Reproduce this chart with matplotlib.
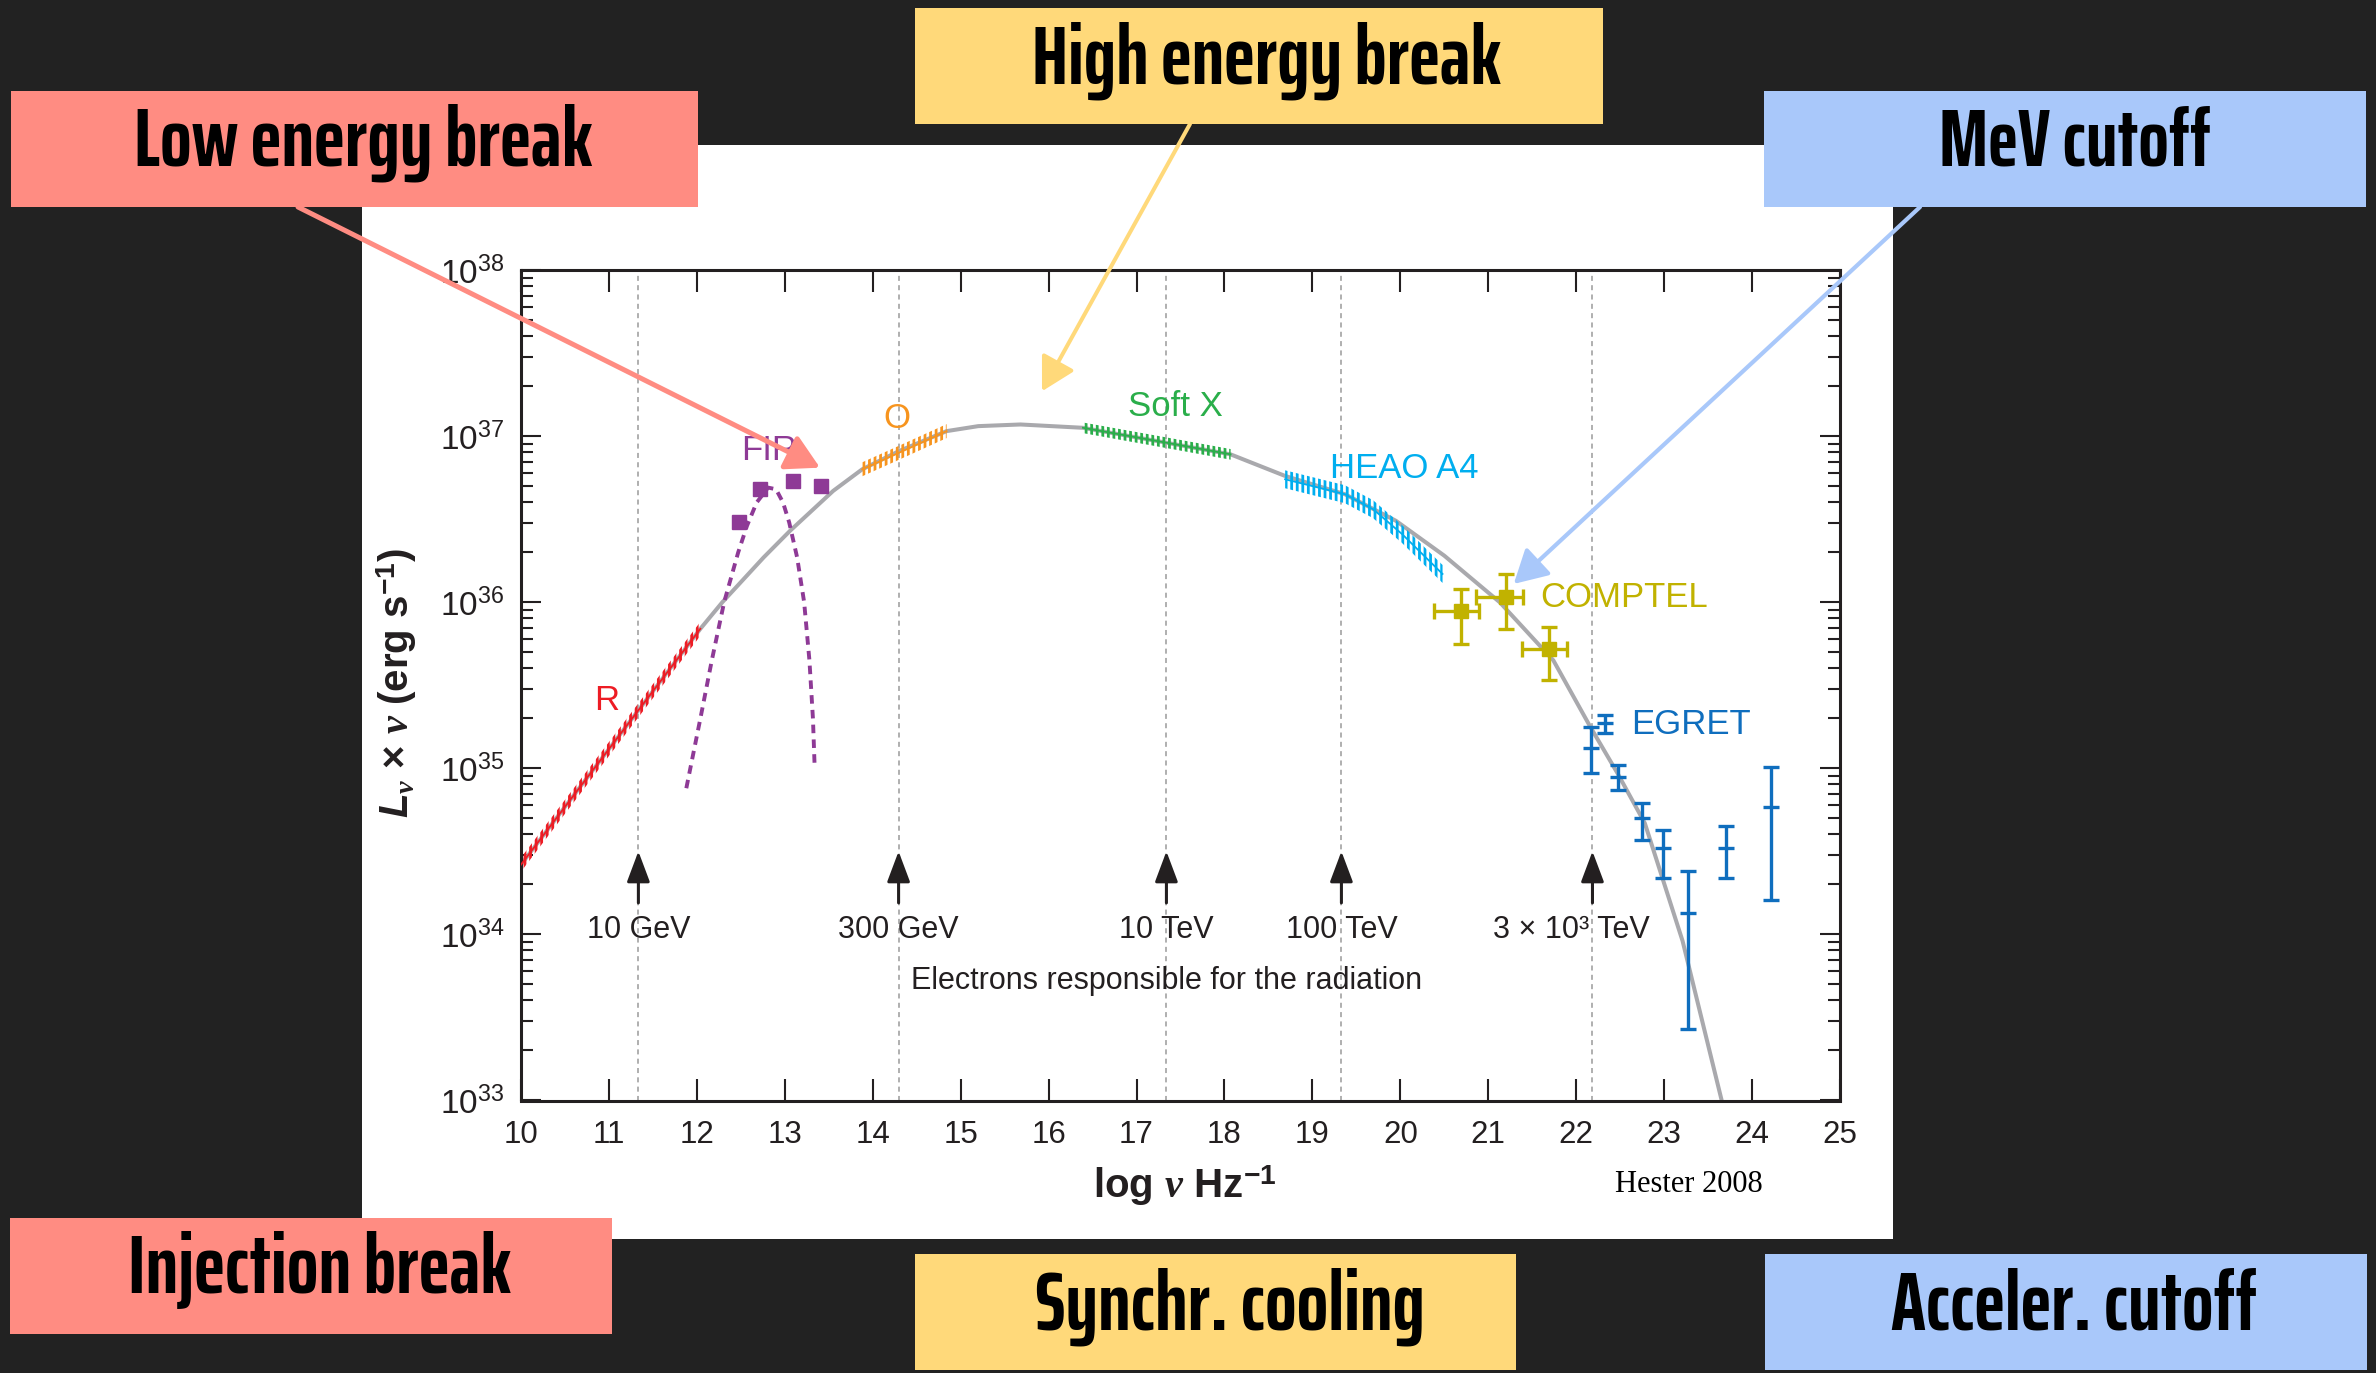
import os
import numpy as np
import matplotlib
matplotlib.use("Agg")
import matplotlib.pyplot as plt
from matplotlib import font_manager
from matplotlib.font_manager import FontProperties
from matplotlib.patches import Rectangle, Polygon
from matplotlib.ticker import FixedLocator, LogLocator, FuncFormatter, NullFormatter

# ---------------- data: log10(nu / Hz) and log10(L_nu * nu / erg s^-1) ----------------
model_lognu = [10.0, 12.04, 12.29, 12.76, 13.06, 13.55, 13.88, 14.30, 14.84, 15.20, 15.68,
               16.39, 17.34, 18.07, 18.69, 19.37, 19.95, 20.50, 21.13, 21.74, 22.16, 22.47,
               22.78, 23.21, 23.65, 23.70]
model_logL = [34.42, 35.84, 36.00, 36.27, 36.43, 36.67, 36.80, 36.91, 37.03, 37.06, 37.07,
              37.05, 36.96, 36.89, 36.76, 36.65, 36.49, 36.28, 36.00, 35.65, 35.25, 34.97,
              34.67, 33.96, 33.01, 32.90]

radio_lognu = [10.0, 12.04]
radio_logL = [34.42, 35.84]

fir_lognu = [12.48, 12.72, 13.09, 13.41]
fir_logL = [36.48, 36.68, 36.73, 36.70]

dust_lognu = [11.88, 12.04, 12.17, 12.31, 12.47, 12.57, 12.68, 12.81, 12.90, 12.98, 13.05,
              13.14, 13.22, 13.28, 13.32, 13.34]
dust_logL = [34.88, 35.30, 35.65, 36.00, 36.30, 36.46, 36.60, 36.69, 36.68, 36.60, 36.48,
             36.27, 36.00, 35.65, 35.30, 35.00]

optical_lognu = [13.88, 14.30, 14.84]
optical_logL = [36.80, 36.90, 37.03]

softx_lognu = [16.39, 17.34, 18.07]
softx_logL = [37.05, 36.96, 36.89]

heao_lognu = [18.69, 19.37, 19.69, 20.02, 20.48]
heao_logL = [36.74, 36.65, 36.56, 36.41, 36.17]

comptel_lognu = [20.69, 21.20, 21.69]
comptel_lognu_lo = [20.38, 20.86, 21.38]
comptel_lognu_hi = [20.90, 21.40, 21.90]
comptel_logL = [35.95, 36.03, 35.72]
comptel_logL_lo = [35.75, 35.84, 35.53]
comptel_logL_hi = [36.08, 36.17, 35.85]

egret_lognu = [22.17, 22.33, 22.47, 22.75, 22.99, 23.27, 23.70, 24.21]
egret_logL = [35.12, 35.27, 34.95, 34.70, 34.52, 34.13, 34.52, 34.77]
egret_logL_lo = [34.97, 35.21, 34.87, 34.57, 34.34, 33.43, 34.34, 34.21]
egret_logL_hi = [35.25, 35.32, 35.02, 34.79, 34.63, 34.38, 34.65, 35.01]

electron_lognu = [11.335, 14.294, 17.34, 19.33, 22.185]
electron_label_lognu = [11.335, 14.294, 17.34, 19.33, 21.94]
electron_labels = ["10 GeV", "300 GeV", "10 TeV", "100 TeV", "3 \u00d7 10\u00b3 TeV"]

x_ticks = list(range(10, 26))
y_decades = [33, 34, 35, 36, 37, 38]

box_labels = ["Low energy break", "High energy break", "MeV cutoff",
              "Injection break", "Synchr. cooling", "Acceler. cutoff"]

# ---------------- style ----------------
BG = "#222222"
INK = "#231f20"
SALMON = "#ff8c82"
YELLOW = "#ffd97a"
BLUE = "#a9c8fa"
C_MODEL = "#a9a9ad"
C_R = "#ed1c24"
C_FIR = "#8e3a96"
C_O = "#f7941e"
C_SX = "#2aae4a"
C_HEAO = "#00aeef"
C_COMPTEL = "#c1b200"
C_EGRET = "#0f6ebe"

plt.rcParams["font.family"] = ["Liberation Sans", "DejaVu Sans"]
plt.rcParams["mathtext.fontset"] = "custom"
plt.rcParams["mathtext.rm"] = "Liberation Sans"
plt.rcParams["mathtext.bf"] = "Liberation Sans:bold"
plt.rcParams["mathtext.it"] = "Liberation Serif:italic:bold"
plt.rcParams["mathtext.sf"] = "Liberation Sans:italic:bold"
plt.rcParams["hatch.linewidth"] = 2.0

W, H = 2376, 1373
fig = plt.figure(figsize=(W / 100, H / 100), dpi=100, facecolor=BG)

# white panel behind the chart
fig.patches.append(Rectangle((362 / W, 1 - 1239 / H), (1893 - 362) / W, (1239 - 145) / H,
                             transform=fig.transFigure, facecolor="white",
                             edgecolor="none", zorder=-5))

ax = fig.add_axes([521 / W, 1 - 1100.5 / H, (1840 - 521) / W, (1100.5 - 270) / H])
ax.set_facecolor("white")
ax.set_xlim(10, 25)
ax.set_yscale("log")
ax.set_ylim(10.0 ** y_decades[0], 10.0 ** y_decades[-1])


def lin(v):
    return 10.0 ** np.asarray(v, dtype=float)


# electron-energy reference lines and arrows
for xv in electron_lognu:
    ax.axvline(xv, color="#9a9a9a", lw=1.1, ls=(0, (3.3, 2.8)), zorder=1)
    ax.annotate("", xy=(xv, 10 ** 34.50), xytext=(xv, 10 ** 34.19),
                arrowprops=dict(arrowstyle="-|>,head_length=0.4,head_width=0.15",
                                mutation_scale=47, lw=2.2, color=INK,
                                shrinkA=0, shrinkB=0), zorder=3)
for xv, lab in zip(electron_label_lognu, electron_labels):
    ax.text(xv, 10 ** 33.978, lab, ha="center", va="baseline", fontsize=22, color=INK)
ax.text(electron_lognu[2], 10 ** 33.67, "Electrons responsible for the radiation",
        ha="center", va="baseline", fontsize=22, color=INK)

# synchrotron model
ax.plot(model_lognu, lin(model_logL), color=C_MODEL, lw=2.9, zorder=2,
        solid_capstyle="butt")

# dust model
ax.plot(dust_lognu, lin(dust_logL), color=C_FIR, lw=2.8, ls=(0, (2.2, 1.6)), zorder=3)

# hatched observational bands (half-thickness in dex)
bands = [
    (radio_lognu, radio_logL, C_R, 0.042),
    (optical_lognu, optical_logL, C_O, 0.042),
    (softx_lognu, softx_logL, C_SX, 0.032),
    (heao_lognu, heao_logL, C_HEAO, 0.054),
]
for xs, ys, c, half in bands:
    ys = np.asarray(ys, dtype=float)
    upper = np.column_stack([xs, lin(ys + half)])
    lower = np.column_stack([xs, lin(ys - half)])[::-1]
    ax.add_patch(Polygon(np.vstack([upper, lower]), closed=True, facecolor="none",
                         edgecolor=c, lw=0, hatch="|||", zorder=4))
    ax.plot(xs, lin(ys), color=c, lw=1.3, zorder=4)

# FIR photometry
ax.plot(fir_lognu, lin(fir_logL), ls="none", marker="s", markersize=9.5,
        color=C_FIR, zorder=5)

# COMPTEL
cy = lin(comptel_logL)
c_yerr = [cy - lin(comptel_logL_lo), lin(comptel_logL_hi) - cy]
c_xerr = [np.subtract(comptel_lognu, comptel_lognu_lo),
          np.subtract(comptel_lognu_hi, comptel_lognu)]
ax.errorbar(comptel_lognu, cy, yerr=c_yerr, xerr=c_xerr, fmt="s", markersize=10,
            color=C_COMPTEL, ecolor=C_COMPTEL, elinewidth=2.4, capsize=6, capthick=2.4,
            zorder=5)

# EGRET
ey = lin(egret_logL)
e_yerr = [ey - lin(egret_logL_lo), lin(egret_logL_hi) - ey]
ax.errorbar(egret_lognu, ey, yerr=e_yerr, fmt="_", markersize=12, markeredgewidth=2.4,
            color=C_EGRET, ecolor=C_EGRET, elinewidth=2.4, capsize=6, capthick=2.4,
            zorder=5)

# series names
series_text = [
    (10.98, 35.351, "R", C_R, "center"),
    (12.82, 36.856, "FIR", C_FIR, "center"),
    (14.274, 37.049, "O", C_O, "center"),
    (17.445, 37.123, "Soft X", C_SX, "center"),
    (20.04, 36.75, "HEAO A4", C_HEAO, "center"),
    (21.59, 35.973, "COMPTEL", C_COMPTEL, "left"),
    (22.62, 35.207, "EGRET", C_EGRET, "left"),
]
for xv, yv, s, c, ha in series_text:
    ax.text(xv, 10 ** yv, s, color=c, fontsize=25, ha=ha, va="baseline", zorder=6)

# axes styling
ax.xaxis.set_major_locator(FixedLocator(x_ticks))
ax.yaxis.set_major_locator(FixedLocator([10.0 ** d for d in y_decades]))
ax.yaxis.set_minor_locator(LogLocator(base=10, subs=np.arange(2, 10), numticks=30))
ax.yaxis.set_minor_formatter(NullFormatter())
ax.yaxis.set_major_formatter(FuncFormatter(
    lambda v, p: r"$\mathregular{10^{%d}}$" % int(round(np.log10(v)))))
ax.tick_params(axis="x", which="major", direction="in", length=15.6, width=1.5,
               top=True, labelsize=22.5, pad=14, colors=INK)
ax.tick_params(axis="y", which="major", direction="in", length=14.4, width=1.5,
               right=True, labelsize=24, pad=12, colors=INK)
ax.tick_params(axis="y", which="minor", direction="in", length=8.6, width=1.5,
               right=True, colors=INK)
for sp in ax.spines.values():
    sp.set_linewidth(2.2)
    sp.set_color(INK)

fig.text(397 / W, 1 - 683 / H,
         r"$\mathsf{L}_{\nu}$ " + "\u00d7" + r" $\nu$ (erg s$^{\mathbf{-1}}$)",
         rotation=90, ha="center", va="center", fontsize=29, fontweight="bold", color=INK)
fig.text(1185 / W, 1 - 1186 / H, r"log $\nu$ Hz$^{\mathbf{-1}}$",
         ha="center", va="center", fontsize=29, fontweight="bold", color=INK)
fig.text(1689 / W, 1 - 1185 / H, "Hester 2008", ha="center", va="center",
         fontsize=22, family="Liberation Serif", color="black")

# ---------------- callout boxes ----------------
ov = fig.add_axes([0, 0, 1, 1], zorder=10)
ov.set_xlim(0, W)
ov.set_ylim(H, 0)
ov.axis("off")
ov.patch.set_alpha(0)

font_files = sorted({f.fname for f in font_manager.fontManager.ttflist})


def condensed_bold():
    prefs = ["SairaExtraCondensed-Bold.", "BarlowCondensed-Bold.", "FjallaOne-Regular.",
             "SairaCondensed-Bold."]
    for p in prefs:
        for f in font_files:
            if os.path.basename(f).startswith(p):
                return FontProperties(fname=f)
    return FontProperties(family="DejaVu Sans", weight="bold")


fp = condensed_bold()

boxes = [  # x0, y0, x1, y1, colour, text centre x, baseline y, text width
    (11, 91, 698, 207, SALMON, 363, 166, 459),
    (915, 8, 1603, 124, YELLOW, 1267, 83, 469),
    (1764, 91, 2366, 207, BLUE, 2075, 166, 272),
    (10, 1218, 612, 1334, SALMON, 320, 1293, 386),
    (915, 1254, 1516, 1370, YELLOW, 1230, 1330, 390),
    (1765, 1254, 2367, 1370, BLUE, 2074, 1330, 366),
]
renderer = fig.canvas.get_renderer()
for (x0, y0, x1, y1, col, tx, ty, tw), lab in zip(boxes, box_labels):
    ov.add_patch(Rectangle((x0, y0), x1 - x0, y1 - y0, facecolor=col, edgecolor="none"))
    t = ov.text(tx, ty, lab, ha="center", va="baseline", fontproperties=fp,
                fontsize=60, color="black")
    wpx = t.get_window_extent(renderer).width
    t.set_fontsize(min(60.0, 60.0 * tw / wpx))

arrow_kw = dict(arrowstyle="-|>,head_length=0.45,head_width=0.25", mutation_scale=45,
                shrinkA=0, shrinkB=0)
ov.annotate("", xy=(13.40, 10 ** 36.81), xycoords=ax.transData,
            xytext=(298, 207), textcoords=ov.transData,
            arrowprops=dict(color=SALMON, lw=3.6, **arrow_kw))
ov.annotate("", xy=(15.925, 10 ** 37.27), xycoords=ax.transData,
            xytext=(1190, 124), textcoords=ov.transData,
            arrowprops=dict(color=YELLOW, lw=2.9, **arrow_kw))
ov.annotate("", xy=(21.29, 10 ** 36.11), xycoords=ax.transData,
            xytext=(1920, 207), textcoords=ov.transData,
            arrowprops=dict(color=BLUE, lw=3.0, **arrow_kw))

fig.savefig("out.png", dpi=100, facecolor=fig.get_facecolor())
